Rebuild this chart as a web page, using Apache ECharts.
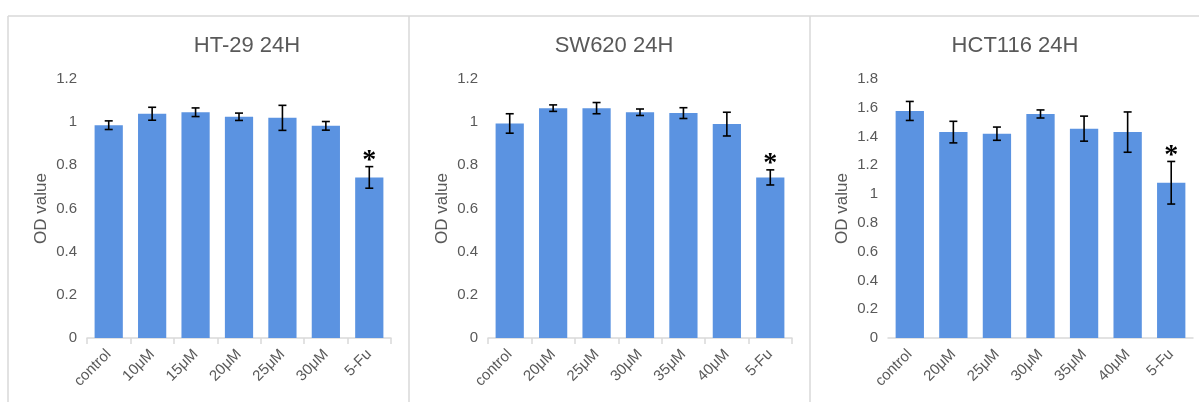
<!DOCTYPE html>
<html>
<head>
<meta charset="utf-8">
<script src="https://cdn.jsdelivr.net/npm/echarts@6/dist/echarts.min.js"></script>
<style>
  html, body { margin: 0; padding: 0; background: #fff; }
  #main { width: 1199px; height: 402px; }
</style>
</head>
<body>
<div id="main"></div>
<script>
var titles = ['HT-29 24H', 'SW620 24H', 'HCT116 24H'];
var cats1 = ['control', '10μM', '15μM', '20μM', '25μM', '30μM', '5-Fu'];
var cats2 = ['control', '20μM', '25μM', '30μM', '35μM', '40μM', '5-Fu'];
var cats3 = ['control', '20μM', '25μM', '30μM', '35μM', '40μM', '5-Fu'];
var values1 = [0.986, 1.039, 1.046, 1.025, 1.02, 0.983, 0.744];
var errors1 = [0.02, 0.03, 0.02, 0.017, 0.058, 0.02, 0.05];
var values2 = [0.994, 1.065, 1.065, 1.046, 1.042, 0.991, 0.744];
var errors2 = [0.045, 0.015, 0.026, 0.015, 0.025, 0.055, 0.035];
var values3 = [1.578, 1.431, 1.42, 1.557, 1.455, 1.431, 1.079];
var errors3 = [0.066, 0.075, 0.046, 0.028, 0.087, 0.14, 0.148];
var marks = ['', '', '', '', '', '', '*'];
var yMax = [1.2, 1.2, 1.8];

var barColor = '#5b93e1';
var textColor = '#595959';
var lineColor = '#d9d9d9';

var panelLeft = [8, 409, 810];
var gridLeft = [87, 488, 888];
var gridWidth = [304, 304, 305];
var titleCenter = [242, 609, 1010];

var chart = echarts.init(document.getElementById('main'));

function errorSeries(idx, values, errors) {
  var data = values.map(function (v, i) {
    return [i, v, errors[i], marks[i]];
  });
  return {
    type: 'custom',
    xAxisIndex: idx,
    yAxisIndex: idx,
    z: 5,
    data: data,
    renderItem: function (params, api) {
      var x = api.value(0);
      var v = api.value(1);
      var e = api.value(2);
      var hi = api.coord([x, v + e]);
      var lo = api.coord([x, v - e]);
      var cap = 4;
      var style = { stroke: '#000', lineWidth: 1.6 };
      var children = [
        { type: 'line', shape: { x1: hi[0], y1: hi[1], x2: lo[0], y2: lo[1] }, style: style },
        { type: 'line', shape: { x1: hi[0] - cap, y1: hi[1], x2: hi[0] + cap, y2: hi[1] }, style: style },
        { type: 'line', shape: { x1: lo[0] - cap, y1: lo[1], x2: lo[0] + cap, y2: lo[1] }, style: style }
      ];
      var mark = data[params.dataIndex][3];
      if (mark) {
        children.push({
          type: 'text',
          x: hi[0],
          y: hi[1] + 8,
          style: {
            text: mark,
            fill: '#000',
            font: 'bold 28px "Liberation Serif"',
            align: 'center',
            verticalAlign: 'bottom'
          }
        });
      }
      return { type: 'group', children: children };
    }
  };
}

var allCats = [cats1, cats2, cats3];
var allValues = [values1, values2, values3];
var allErrors = [errors1, errors2, errors3];

var grids = [], xAxes = [], yAxes = [], series = [], titleList = [];
for (var k = 0; k < 3; k++) {
  grids.push({ left: gridLeft[k], width: gridWidth[k], top: 79, height: 259 });
  titleList.push({
    text: titles[k],
    left: titleCenter[k],
    top: 30,
    textAlign: 'center',
    textStyle: { color: textColor, fontSize: 22, fontWeight: 'normal', fontFamily: 'Liberation Sans' }
  });
  xAxes.push({
    type: 'category',
    gridIndex: k,
    data: allCats[k],
    axisLine: { lineStyle: { color: lineColor, width: 1.5 } },
    axisTick: { show: k < 2, length: 6, lineStyle: { color: lineColor, width: 1.5 } },
    axisLabel: { rotate: 45, color: textColor, fontSize: 15, fontFamily: 'Liberation Sans', margin: 14 }
  });
  yAxes.push({
    type: 'value',
    gridIndex: k,
    min: 0,
    max: yMax[k],
    interval: 0.2,
    name: 'OD value',
    nameLocation: 'middle',
    nameRotate: 90,
    nameGap: 37,
    nameTextStyle: { color: textColor, fontSize: 17, fontFamily: 'Liberation Sans' },
    axisLine: { show: false },
    axisTick: { show: false },
    splitLine: { show: false },
    axisLabel: {
      color: textColor, fontSize: 15, fontFamily: 'Liberation Sans', margin: 10,
      formatter: function (v) { return String(Math.round(v * 10) / 10); }
    }
  });
  series.push({
    type: 'bar',
    xAxisIndex: k,
    yAxisIndex: k,
    data: allValues[k],
    barCategoryGap: '35%',
    itemStyle: { color: barColor }
  });
  series.push(errorSeries(k, allValues[k], allErrors[k]));
}

var frame = [
  { type: 'line', shape: { x1: 8, y1: 16, x2: 1199, y2: 16 }, style: { stroke: lineColor, lineWidth: 1.5 } }
];
panelLeft.forEach(function (x) {
  frame.push({ type: 'line', shape: { x1: x, y1: 16, x2: x, y2: 402 }, style: { stroke: lineColor, lineWidth: 1.5 } });
});

chart.setOption({
  backgroundColor: '#fff',
  animation: false,
  title: titleList,
  grid: grids,
  xAxis: xAxes,
  yAxis: yAxes,
  series: series,
  graphic: frame
});
</script>
</body>
</html>
